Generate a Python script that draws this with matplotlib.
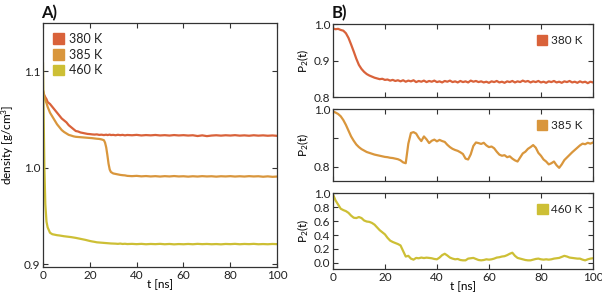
import matplotlib
matplotlib.use("Agg")
import matplotlib.pyplot as plt
from matplotlib.patches import Patch

plt.rcParams['font.family'] = ['Lato', 'DejaVu Sans']
plt.rcParams['font.size'] = 9
plt.rcParams['mathtext.fontset'] = 'custom'
plt.rcParams['mathtext.rm'] = 'Lato'
plt.rcParams['mathtext.it'] = 'Lato'

labels = ['380 K', '385 K', '460 K']
colors = ['#d9623a', '#d9963c', '#cdbf35']

# ---- panel A: density vs time ----
t_dens = [0, 0.3, 0.6, 1, 1.5, 2, 3, 4, 5, 6, 7, 8, 9, 10, 11, 12, 13, 14, 15, 16,
          17, 18, 19, 20, 21, 22, 23, 24, 25, 26, 26.5, 27, 27.5, 28, 28.5, 29, 30,
          31, 32, 33, 34, 35, 36, 38, 40, 42, 44, 46, 48, 50, 52, 54, 56, 58, 60,
          62, 64, 66, 68, 70, 72, 74, 76, 78, 80, 82, 84, 86, 88, 90, 92, 94, 96,
          98, 100]

dens_380 = [1.080, 1.077, 1.075, 1.073, 1.071, 1.068, 1.066, 1.063, 1.060, 1.057,
            1.054, 1.051, 1.049, 1.047, 1.044, 1.042, 1.040, 1.038, 1.0375, 1.0365,
            1.036, 1.0355, 1.035, 1.0348, 1.0345, 1.0343, 1.0345, 1.034, 1.0342, 1.0338,
            1.034, 1.0342, 1.0338, 1.034, 1.0343, 1.0338, 1.034, 1.0336, 1.0341, 1.0337,
            1.034, 1.0335, 1.0339, 1.0336, 1.0340, 1.0334, 1.0338, 1.0335, 1.0339, 1.0334,
            1.0337, 1.0333, 1.0338, 1.0334, 1.0337, 1.0333, 1.0336, 1.0328, 1.0335, 1.0327,
            1.0333, 1.0336, 1.0332, 1.0336, 1.0333, 1.0337, 1.0332, 1.0335, 1.0331, 1.0336,
            1.0332, 1.0335, 1.0331, 1.0334, 1.0330]

dens_385 = [1.080, 1.076, 1.073, 1.070, 1.067, 1.063, 1.057, 1.053, 1.049, 1.045,
            1.042, 1.039, 1.037, 1.0355, 1.034, 1.0333, 1.0325, 1.032, 1.0318, 1.0316,
            1.0314, 1.0312, 1.031, 1.0308, 1.0306, 1.0303, 1.030, 1.0298, 1.0293, 1.0285,
            1.026, 1.021, 1.013, 1.004, 0.998, 0.9955, 0.994, 0.9935, 0.993, 0.9925,
            0.9922, 0.992, 0.9915, 0.9912, 0.9915, 0.9910, 0.9913, 0.9909, 0.9912, 0.9908,
            0.9912, 0.9909, 0.9913, 0.9909, 0.9911, 0.9907, 0.9911, 0.9908, 0.9912, 0.9909,
            0.9911, 0.9907, 0.9911, 0.9909, 0.9912, 0.9908, 0.9911, 0.9908, 0.9912, 0.9909,
            0.9911, 0.9906, 0.9910, 0.9905, 0.9908]

dens_460 = [1.108, 1.050, 1.000, 0.962, 0.944, 0.938, 0.9325, 0.931, 0.9305, 0.930,
            0.9297, 0.9293, 0.9289, 0.9286, 0.9283, 0.928, 0.9276, 0.9272, 0.9267, 0.9262,
            0.9257, 0.9252, 0.9246, 0.924, 0.9235, 0.9231, 0.9226, 0.9224, 0.9222, 0.922,
            0.9219, 0.9218, 0.9217, 0.9216, 0.9215, 0.9214, 0.9213, 0.9212, 0.9210, 0.9213,
            0.9209, 0.9211, 0.9208, 0.9210, 0.9207, 0.9210, 0.9206, 0.9209, 0.9207, 0.9210,
            0.9206, 0.9209, 0.9205, 0.9208, 0.9206, 0.9209, 0.9206, 0.9210, 0.9207, 0.9209,
            0.9206, 0.9208, 0.9205, 0.9209, 0.9207, 0.9210, 0.9206, 0.9209, 0.9207, 0.9210,
            0.9206, 0.9208, 0.9206, 0.9209, 0.9207]

# ---- panel B: P2(t) ----
t_p2 = list(range(0, 101))

p2_380 = [0.988, 0.986, 0.987, 0.984, 0.982, 0.975, 0.962, 0.944, 0.925, 0.905,
          0.888, 0.877, 0.869, 0.863, 0.859, 0.856, 0.853, 0.851, 0.849, 0.850,
          0.847, 0.848, 0.845, 0.847, 0.844, 0.846, 0.843, 0.846, 0.842, 0.845,
          0.843, 0.846, 0.841, 0.844, 0.842, 0.845, 0.841, 0.844, 0.842, 0.845,
          0.841, 0.843, 0.840, 0.844, 0.842, 0.845, 0.841, 0.843, 0.840, 0.844,
          0.841, 0.843, 0.840, 0.845, 0.842, 0.844, 0.841, 0.843, 0.840, 0.842,
          0.839, 0.843, 0.841, 0.844, 0.840, 0.842, 0.839, 0.843, 0.841, 0.844,
          0.840, 0.843, 0.841, 0.845, 0.842, 0.844, 0.840, 0.843, 0.841, 0.844,
          0.840, 0.842, 0.839, 0.843, 0.841, 0.844, 0.840, 0.842, 0.839, 0.843,
          0.841, 0.844, 0.840, 0.842, 0.839, 0.843, 0.840, 0.842, 0.838, 0.842,
          0.840]

p2_385 = [0.992, 0.988, 0.983, 0.975, 0.962, 0.945, 0.925, 0.905, 0.890, 0.877,
          0.868, 0.861, 0.856, 0.851, 0.848, 0.845, 0.842, 0.840, 0.838, 0.836,
          0.834, 0.833, 0.831, 0.830, 0.828, 0.826, 0.822, 0.815, 0.812, 0.880,
          0.917, 0.920, 0.915, 0.900, 0.889, 0.905, 0.895, 0.882, 0.890, 0.894,
          0.888, 0.893, 0.889, 0.886, 0.876, 0.868, 0.862, 0.858, 0.855, 0.850,
          0.844, 0.828, 0.825, 0.843, 0.872, 0.884, 0.882, 0.879, 0.883, 0.874,
          0.868, 0.870, 0.864, 0.852, 0.842, 0.838, 0.840, 0.833, 0.836, 0.828,
          0.822, 0.818, 0.832, 0.846, 0.852, 0.862, 0.868, 0.875, 0.866, 0.848,
          0.838, 0.825, 0.818, 0.808, 0.812, 0.818, 0.805, 0.796, 0.808, 0.823,
          0.832, 0.841, 0.850, 0.858, 0.866, 0.874, 0.880, 0.878, 0.883, 0.880,
          0.884]

p2_460 = [0.99, 0.90, 0.84, 0.78, 0.76, 0.745, 0.72, 0.68, 0.65, 0.645,
          0.66, 0.645, 0.61, 0.595, 0.59, 0.575, 0.55, 0.51, 0.47, 0.44,
          0.41, 0.36, 0.32, 0.30, 0.285, 0.27, 0.25, 0.17, 0.09, 0.10,
          0.06, 0.045, 0.07, 0.065, 0.075, 0.068, 0.074, 0.07, 0.065, 0.055,
          0.05, 0.075, 0.11, 0.13, 0.105, 0.075, 0.06, 0.05, 0.055, 0.04,
          0.035, 0.035, 0.06, 0.065, 0.07, 0.055, 0.04, 0.035, 0.04, 0.05,
          0.045, 0.05, 0.06, 0.075, 0.08, 0.09, 0.095, 0.11, 0.13, 0.145,
          0.10, 0.07, 0.06, 0.05, 0.04, 0.035, 0.035, 0.045, 0.055, 0.06,
          0.05, 0.045, 0.05, 0.045, 0.05, 0.06, 0.065, 0.07, 0.085, 0.10,
          0.09, 0.075, 0.07, 0.065, 0.06, 0.06, 0.045, 0.035, 0.05, 0.06,
          0.065]

fig = plt.figure(figsize=(6.02, 2.94), dpi=100)
axA = fig.add_axes([0.0714, 0.0918, 0.389, 0.830])
axB1 = fig.add_axes([0.553, 0.670, 0.432, 0.248])
axB2 = fig.add_axes([0.553, 0.384, 0.432, 0.245])
axB3 = fig.add_axes([0.553, 0.085, 0.432, 0.257])

edge = '#333333'


def style(ax):
    ax.tick_params(direction='in', top=True, right=True, length=3.5, width=0.8,
                   colors=edge, labelcolor='#222222', labelsize=8.5, pad=2)
    for s in ax.spines.values():
        s.set_color(edge)
        s.set_linewidth(0.9)
    ax.set_xlim(0, 100)
    ax.set_xticks([0, 20, 40, 60, 80, 100])


for ser, c in zip([dens_380, dens_385, dens_460], colors):
    axA.plot(t_dens, ser, color=c, lw=1.6)
style(axA)
axA.set_ylim(0.897, 1.15)
axA.set_yticks([0.9, 1.0, 1.1])
axA.set_yticklabels(['0.9', '1.0', '1.1'])
axA.set_xlabel('t [ns]', labelpad=-1, fontsize=8.5)
axA.set_ylabel('density [g/cm$^3$]', fontsize=8.5)
axA.yaxis.set_label_coords(-0.115, 0.5)
handles = [Patch(color=c, label=l) for c, l in zip(colors, labels)]
axA.legend(handles=handles, loc='upper left', frameon=False, handlelength=0.9,
           handleheight=0.9, handletextpad=0.4, labelspacing=0.3,
           borderaxespad=0.4, fontsize=9, labelcolor='#222222')

b_axes = [axB1, axB2, axB3]
b_data = [p2_380, p2_385, p2_460]
for ax, ser, c, l in zip(b_axes, b_data, colors, labels):
    ax.plot(t_p2, ser, color=c, lw=1.6)
    style(ax)
    ax.set_ylabel('P$_2$(t)', fontsize=8.5)
    ax.yaxis.set_label_coords(-0.085, 0.5)
    ax.legend(handles=[Patch(color=c, label=l)], loc='upper right', frameon=False,
              handlelength=0.9, handleheight=0.9, handletextpad=0.3,
              borderaxespad=0.5, fontsize=8.5, labelcolor='#222222')

axB1.set_ylim(0.8, 1.0)
axB1.set_yticks([0.8, 0.9, 1.0])
axB1.set_yticklabels(['0.8', '0.9', '1.0'])
axB2.set_ylim(0.75, 1.0)
axB2.set_yticks([0.8, 0.9, 1.0])
axB2.set_yticklabels(['0.8', '', '1.0'])
axB3.set_ylim(-0.09, 1.0)
axB3.set_yticks([0.0, 0.2, 0.4, 0.6, 0.8, 1.0])
axB3.set_yticklabels(['0.0', '0.2', '0.4', '0.6', '0.8', '1.0'])
axB1.set_xticklabels([])
axB2.set_xticklabels([])
axB3.set_xlabel('t [ns]', labelpad=-1, fontsize=8.5)

fig.text(0.068, 0.955, 'A)', fontsize=12, fontweight='bold', color='#111111',
         va='center')
fig.text(0.551, 0.955, 'B)', fontsize=12, fontweight='bold', color='#111111',
         va='center')

fig.savefig('out.png', dpi=100)
